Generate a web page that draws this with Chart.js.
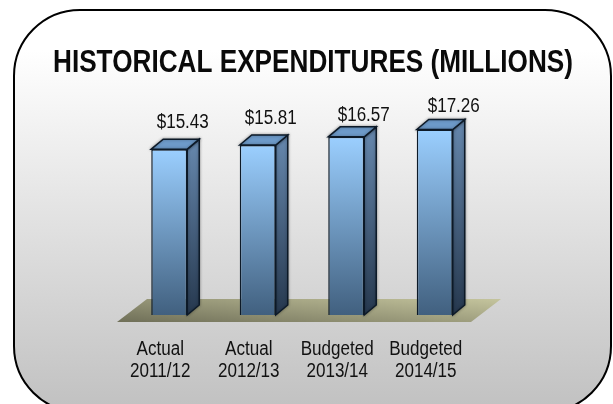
<!DOCTYPE html>
<html>
<head>
<meta charset="utf-8">
<title>Historical Expenditures</title>
<script src="https://cdn.jsdelivr.net/npm/chart.js@4"></script>
<style>
  html, body { margin: 0; padding: 0; background: #fff; }
  canvas { display: block; }
</style>
</head>
<body>
<canvas id="chart" width="613" height="404"></canvas>
<script>
const chartTitle = 'HISTORICAL EXPENDITURES (MILLIONS)';
const categories = ['Actual', 'Actual', 'Budgeted', 'Budgeted'];
const periods = ['2011/12', '2012/13', '2013/14', '2014/15'];
const expenditures = [15.43, 15.81, 16.57, 17.26];

const DEPTH_X = 12;
const DEPTH_Y = 10;
const FONT = '"Liberation Sans", Arial, sans-serif';
const NARROW = 0.875; // original text is squeezed horizontally
// the value labels sit off-centre in the original, each by its own amount
const labelShift = [[13.5, -27], [13, -26], [17.5, -21], [19, -23]];

function vGrad(ctx, y0, y1, c0, c1) {
  const g = ctx.createLinearGradient(0, y0, 0, y1);
  g.addColorStop(0, c0);
  g.addColorStop(1, c1);
  return g;
}

function narrowText(ctx, text, x, y) {
  ctx.fillText(text, x, y, ctx.measureText(text).width * NARROW);
}

const panel = {
  id: 'panel',
  beforeDraw(chart) {
    const ctx = chart.ctx;
    ctx.save();
    ctx.beginPath();
    ctx.roundRect(14, 10, 597, 402, 66);
    const g = ctx.createLinearGradient(0, 50, 0, 404);
    g.addColorStop(0, '#ffffff');
    g.addColorStop(1, '#c2c2c2');
    ctx.fillStyle = g;
    ctx.fill();
    ctx.lineWidth = 2;
    ctx.strokeStyle = '#000';
    ctx.stroke();

    // floor under the bars
    ctx.beginPath();
    ctx.moveTo(147, 299);
    ctx.lineTo(501, 299);
    ctx.lineTo(471, 322);
    ctx.lineTo(117, 322);
    ctx.closePath();
    const f = ctx.createLinearGradient(117, 322, 122, 264);
    f.addColorStop(0, '#6f6f58');
    f.addColorStop(1, '#c8c8a0');
    ctx.fillStyle = f;
    ctx.fill();
    ctx.restore();
  }
};

const bars3d = {
  id: 'bars3d',
  beforeDatasetsDraw(chart) {
    const ctx = chart.ctx;
    ctx.save();
    chart.getDatasetMeta(0).data.forEach(bar => {
      const l = bar.x - bar.width / 2;
      const r = bar.x + bar.width / 2;
      ctx.lineWidth = 1.5;
      ctx.strokeStyle = '#0d1a28';
      ctx.shadowColor = 'rgba(0,0,0,0.35)';
      ctx.shadowBlur = 3;

      ctx.beginPath();
      ctx.moveTo(r, bar.y);
      ctx.lineTo(r + DEPTH_X, bar.y - DEPTH_Y);
      ctx.lineTo(r + DEPTH_X, bar.base - DEPTH_Y);
      ctx.lineTo(r, bar.base);
      ctx.closePath();
      ctx.fillStyle = vGrad(ctx, bar.y, bar.base, '#6384a9', '#26384e');
      ctx.fill();
      ctx.stroke();

      ctx.beginPath();
      ctx.moveTo(l, bar.y);
      ctx.lineTo(l + DEPTH_X, bar.y - DEPTH_Y);
      ctx.lineTo(r + DEPTH_X, bar.y - DEPTH_Y);
      ctx.lineTo(r, bar.y);
      ctx.closePath();
      ctx.fillStyle = '#6d9ac9';
      ctx.fill();
      ctx.stroke();
    });
    ctx.restore();
  },
  afterDatasetsDraw(chart) {
    const ctx = chart.ctx;
    ctx.save();
    ctx.fillStyle = '#111';
    ctx.textAlign = 'center';
    ctx.textBaseline = 'middle';
    ctx.font = '19.5px ' + FONT;
    chart.getDatasetMeta(0).data.forEach((bar, i) => {
      narrowText(ctx, '$' + expenditures[i].toFixed(2), bar.x + labelShift[i][0], bar.y + labelShift[i][1]);
    });
    // axis labels, placed from the category scale
    const xs = chart.scales.x;
    xs.ticks.forEach((t, i) => {
      const x = xs.getPixelForTick(i) - 9;
      narrowText(ctx, t.label[0], x, 349.5);
      narrowText(ctx, t.label[1], x, 372);
    });
    ctx.restore();
  }
};

new Chart(document.getElementById('chart'), {
  type: 'bar',
  data: {
    labels: categories.map((c, i) => [c, periods[i]]),
    datasets: [{
      data: expenditures,
      backgroundColor: ctx => {
        const ys = ctx.chart.scales.y;
        const top = ys ? ys.getPixelForValue(ctx.raw) : NaN;
        const bottom = ys ? ys.getPixelForValue(0) : NaN;
        if (!Number.isFinite(top) || !Number.isFinite(bottom)) return '#6fa0d8';
        return vGrad(ctx.chart.ctx, top, bottom, '#9bcfff', '#41607f');
      },
      borderColor: '#0d1a28',
      borderWidth: 1.5,
      barPercentage: 0.407,
      categoryPercentage: 1
    }]
  },
  options: {
    responsive: false,
    animation: false,
    // the title gets squeezed to the box width, which is what the original looks like
    layout: { padding: { top: 30, left: 53, right: 40, bottom: 0 } },
    plugins: {
      legend: { display: false },
      tooltip: { enabled: false },
      title: {
        display: true,
        text: chartTitle,
        color: '#0a0a0a',
        font: { family: FONT, size: 31, weight: 'bold', lineHeight: '32px' },
        padding: { top: 17, bottom: 21 }
      }
    },
    scales: {
      x: {
        grid: { display: false },
        border: { display: false },
        afterFit: scale => { scale.height = 89; },
        ticks: { display: false, autoSkip: false, maxRotation: 0 }
      },
      y: {
        min: 0,
        max: 20,
        grid: { display: false },
        border: { display: false },
        ticks: { display: false },
        afterFit: scale => { scale.width = 72; }
      },
      right: {
        position: 'right',
        grid: { display: false },
        border: { display: false },
        ticks: { display: false },
        afterFit: scale => { scale.width = 94; }
      }
    }
  },
  plugins: [panel, bars3d]
});
</script>
</body>
</html>
